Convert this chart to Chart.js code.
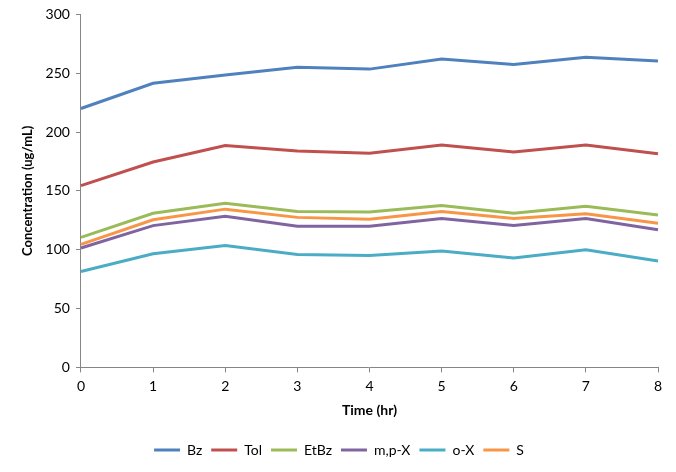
<!DOCTYPE html>
<html>
<head>
<meta charset="utf-8">
<script src="https://cdn.jsdelivr.net/npm/chart.js@4/dist/chart.umd.min.js"></script>
<style>
  body { margin: 0; background: #fff; }
  #wrap { width: 676px; height: 472px; }
</style>
</head>
<body>
<div id="wrap"><canvas id="mycanvas" width="676" height="472"></canvas></div>
<script>
// values
var time_labels = ["0", "1", "2", "3", "4", "5", "6", "7", "8"];
var bz_data   = [220, 241.5, 248.5, 255, 253.5, 262, 257.5, 263.5, 260.5];
var tol_data  = [154.5, 174.5, 188.5, 184, 182, 189, 183, 189, 181.5];
var etbz_data = [110.5, 131, 139.5, 132.5, 132, 137.5, 131, 137, 129.5];
var mpx_data  = [101.5, 120.5, 128.5, 120, 120, 126.5, 120.5, 126.5, 117];
var ox_data   = [81.5, 96.5, 103.5, 96, 95, 99, 93, 100, 90.5];
var s_data    = [104.5, 125.5, 134.5, 127.5, 126, 132.5, 126.5, 130.5, 122.5];

var FONT = "Lato, 'Open Sans', sans-serif";
var AXIS = "#868686";

function series(label, color, data) {
  return {
    label: label,
    data: data,
    borderColor: color,
    backgroundColor: color,
    borderWidth: 3,
    pointRadius: 0,
    pointHoverRadius: 0,
    tension: 0,
    fill: false
  };
}

var chartdata = {
  labels: time_labels,
  datasets: [
    series("Bz", "#4F81BD", bz_data),
    series("Tol", "#C0504D", tol_data),
    series("EtBz", "#9BBB59", etbz_data),
    series("m,p-X", "#8064A2", mpx_data),
    series("o-X", "#4BACC6", ox_data),
    series("S", "#F79646", s_data)
  ]
};

var ctx = document.getElementById("mycanvas");
var LineGraph = new Chart(ctx, {
  type: "line",
  data: chartdata,
  options: {
    responsive: false,
    animation: false,
    layout: { padding: { left: 20, right: 18, top: 13, bottom: 5 } },
    plugins: {
      tooltip: { enabled: false },
      legend: {
        position: "bottom",
        labels: {
          boxWidth: 26,
          boxHeight: 3,
          padding: 9,
          color: "#000",
          font: { family: FONT, size: 14 },
          generateLabels: function(chart) {
            var items = Chart.defaults.plugins.legend.labels.generateLabels(chart);
            items.forEach(function(it) { it.lineWidth = 0; });
            return items;
          }
        }
      }
    },
    scales: {
      x: {
        type: "category",
        offset: false,
        border: { color: AXIS, width: 1 },
        grid: { display: true, drawOnChartArea: false, drawTicks: true, tickLength: 5, color: AXIS },
        ticks: { color: "#000", font: { family: FONT, size: 14 }, padding: 6, maxRotation: 0 },
        title: { display: true, text: "Time (hr)", color: "#000", font: { family: FONT, size: 14, weight: "bold" }, padding: { top: 1, bottom: 15 } }
      },
      y: {
        min: 0,
        max: 300,
        border: { color: AXIS, width: 1 },
        grid: { display: true, drawOnChartArea: false, drawTicks: true, tickLength: 5, color: AXIS },
        ticks: { stepSize: 50, color: "#000", font: { family: FONT, size: 14 }, padding: 6 },
        title: { display: true, text: "Concentration (ug/mL)", color: "#000", font: { family: FONT, size: 13, weight: "bold" }, padding: { top: 0, bottom: 4 } }
      }
    }
  }
});
</script>
</body>
</html>
